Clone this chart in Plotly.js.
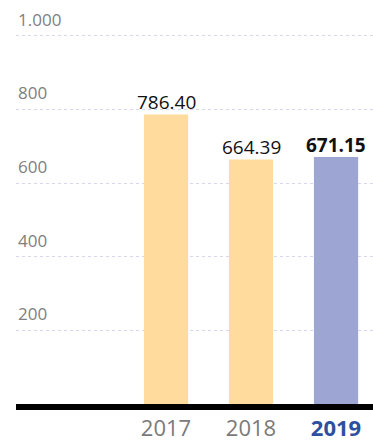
<!DOCTYPE html>
<html><head><meta charset="utf-8">
<script src="https://cdn.plot.ly/plotly-3.0.1.min.js"></script>
<style>html,body{margin:0;padding:0;background:#fff}#c{width:373px;height:443px}</style>
</head><body><div id="c"></div>
<script>
const years = ['2017', '2018', '2019'];
const values = [786.40, 664.39, 671.15];
const valueLabels = ['786.40', '664.39', '<b>671.15</b>'];
const barColors = ['#FFDB9E', '#FFDB9E', '#9DA5D3'];
const yTickVals = [200, 400, 600, 800, 1000];
const yTickText = ['200', '400', '600', '800', '1.000'];
const xTickText = ['2017', '2018', '<b><span style="color:#2E4FA0">2019</span></b>'];

const trace = {
  type: 'bar', x: [0, 1, 2], y: values, width: 0.52,
  marker: {color: barColors}, hoverinfo: 'none'
};
const valueAnn = values.map((v, i) => ({
  x: i, y: v, xref: 'x', yref: 'y', text: valueLabels[i], showarrow: false,
  yanchor: 'bottom', yshift: -3, font: {family: 'Open Sans', size: 19, color: '#111'}
}));
const tickAnn = yTickVals.map((v, i) => ({
  x: 0, y: v, xref: 'paper', yref: 'y', text: yTickText[i], showarrow: false,
  xanchor: 'left', yanchor: 'bottom', xshift: 0, yshift: 3,
  font: {family: 'Open Sans', size: 17, color: '#808080'}
}));
const layout = {
  width: 373, height: 443,
  margin: {l: 16, r: 0, t: 20, b: 39},
  paper_bgcolor: '#fff', plot_bgcolor: '#fff',
  showlegend: false,
  font: {family: 'Open Sans'},
  xaxis: {
    range: [-1.765, 2.435], tickvals: [0, 1, 2], ticktext: xTickText,
    showgrid: false, zeroline: false, showline: true, linecolor: '#000', linewidth: 6,
    ticks: '', tickfont: {size: 22, color: '#7a7a7a'}, fixedrange: true
  },
  yaxis: {
    range: [0, 1043], tickvals: yTickVals, showticklabels: false,
    showgrid: true, gridcolor: '#d6d6ee', griddash: 'dot', gridwidth: 1,
    zeroline: false, showline: false, ticks: '', fixedrange: true
  },
  annotations: valueAnn.concat(tickAnn)
};
Plotly.newPlot('c', [trace], layout, {displayModeBar: false, staticPlot: true});
</script></body></html>
